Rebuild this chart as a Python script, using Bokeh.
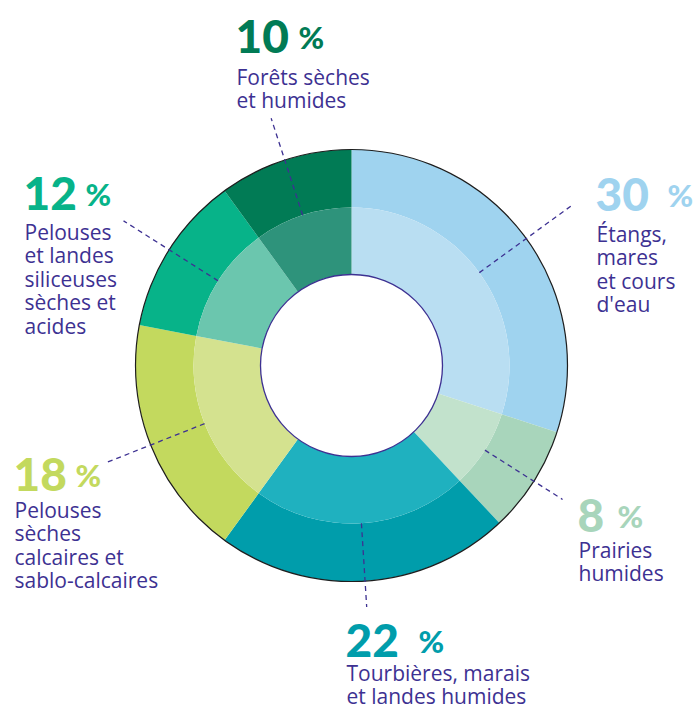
import numpy as np
from bokeh.plotting import figure
from bokeh.models import Range1d, ColumnDataSource
from bokeh.core.properties import value
from bokeh.embed import file_html
from bokeh.resources import INLINE

# ---------------- data ----------------
categories = ["Étangs, mares et cours d'eau", "Prairies humides",
              "Tourbières, marais et landes humides",
              "Pelouses sèches calcaires et sablo-calcaires",
              "Pelouses et landes siliceuses sèches et acides",
              "Forêts sèches et humides"]
shares = [30, 8, 22, 18, 12, 10]
label_lines = [["Étangs,", "mares", "et cours", "d'eau"],
               ["Prairies", "humides"],
               ["Tourbières, marais", "et landes humides"],
               ["Pelouses", "sèches", "calcaires et", "sablo-calcaires"],
               ["Pelouses", "et landes", "siliceuses", "sèches et", "acides"],
               ["Forêts sèches", "et humides"]]
outer_colors = ["#9fd3ef", "#a8d5bb", "#009dab", "#c3d95e", "#07b389", "#017b55"]
inner_colors = ["#b9def2", "#c2e2cc", "#1fb1bf", "#d4e28f", "#6bc6ae", "#2e937b"]

# ---------------- layout ----------------
W, H = 697, 709
CX, CY = 351, 365          # screen coords of the donut centre
R_HOLE, R_MID, R_OUT = 91, 158, 216
TEXT_COLOR = "#3d3192"
TEXT_DY = -9               # compensation for baseline placement
# per label: number x, number baseline, % x, first text baseline, leader outer radius
label_layout = [
    (595, 203, 667, 242, 271),
    (577, 524, 617, 558, 250),
    (345, 649, 418, 681, 242),
    (13, 483, 75, 518, 263),
    (23, 202, 85, 240, 270),
    (235, 45, 298, 85, 260),
]
LINE_H = 23.5


def sy(y):
    return H - y


p = figure(width=W, height=H, output_backend="svg", toolbar_location=None,
           x_range=Range1d(0, W), y_range=Range1d(0, H), min_border=0,
           outline_line_color=None)
p.axis.visible = False
p.grid.visible = False
p.background_fill_color = "white"

total = float(sum(shares))
frac = np.array(shares) / total
cum = np.concatenate([[0], np.cumsum(frac)])
# clockwise from top -> bokeh anticlockwise from +x
start = np.pi / 2 - 2 * np.pi * cum[1:]
end = np.pi / 2 - 2 * np.pi * cum[:-1]

src = ColumnDataSource(dict(x=[CX] * len(shares), y=[sy(CY)] * len(shares),
                            start=start, end=end, outer=outer_colors, inner=inner_colors))
p.annular_wedge(x="x", y="y", inner_radius=R_MID, outer_radius=R_OUT,
                start_angle="start", end_angle="end", fill_color="outer",
                line_color=None, source=src)
p.annular_wedge(x="x", y="y", inner_radius=R_HOLE, outer_radius=R_MID,
                start_angle="start", end_angle="end", fill_color="inner",
                line_color=None, source=src)
p.circle(x=[CX], y=[sy(CY)], radius=R_OUT, fill_color=None,
         line_color="#1e1e1e", line_width=1.2)
p.circle(x=[CX], y=[sy(CY)], radius=R_HOLE, fill_color="white",
         line_color=TEXT_COLOR, line_width=1.3)

# leader lines (radial, at the middle of each segment)
mid = (cum[:-1] + cum[1:]) / 2 * 2 * np.pi
xs, ys = [], []
for m, lay in zip(mid, label_layout):
    r1 = lay[4]
    dx, dy = np.sin(m), -np.cos(m)
    xs.append([CX + R_MID * dx, CX + r1 * dx])
    ys.append([sy(CY + R_MID * dy), sy(CY + r1 * dy)])
p.multi_line(xs=xs, ys=ys, line_color=TEXT_COLOR, line_width=1.3, line_dash="5 4")

# numbers and % signs
p.text(x=[l[0] for l in label_layout], y=[sy(l[1] + TEXT_DY) for l in label_layout],
       text=[str(s) for s in shares], text_color=outer_colors,
       text_font=value("Lato Black"), text_font_style="bold", text_font_size="46px",
       text_baseline="alphabetic", text_align="left")
p.text(x=[l[2] for l in label_layout], y=[sy(l[1] + TEXT_DY) for l in label_layout],
       text=["%"] * len(shares), text_color=outer_colors,
       text_font=value("Lato Black"), text_font_style="bold", text_font_size="31px",
       text_baseline="alphabetic", text_align="left")

# description lines
tx, ty, tt = [], [], []
for lines, lay in zip(label_lines, label_layout):
    for i, line in enumerate(lines):
        tx.append(lay[0] + 1)
        ty.append(sy(lay[3] + i * LINE_H + TEXT_DY))
        tt.append(line)
p.text(x=tx, y=ty, text=tt, text_color=TEXT_COLOR, text_font=value("Open Sans"),
       text_font_size="21px", text_baseline="alphabetic", text_align="left")

open("out.html", "w").write(file_html(p, INLINE))
